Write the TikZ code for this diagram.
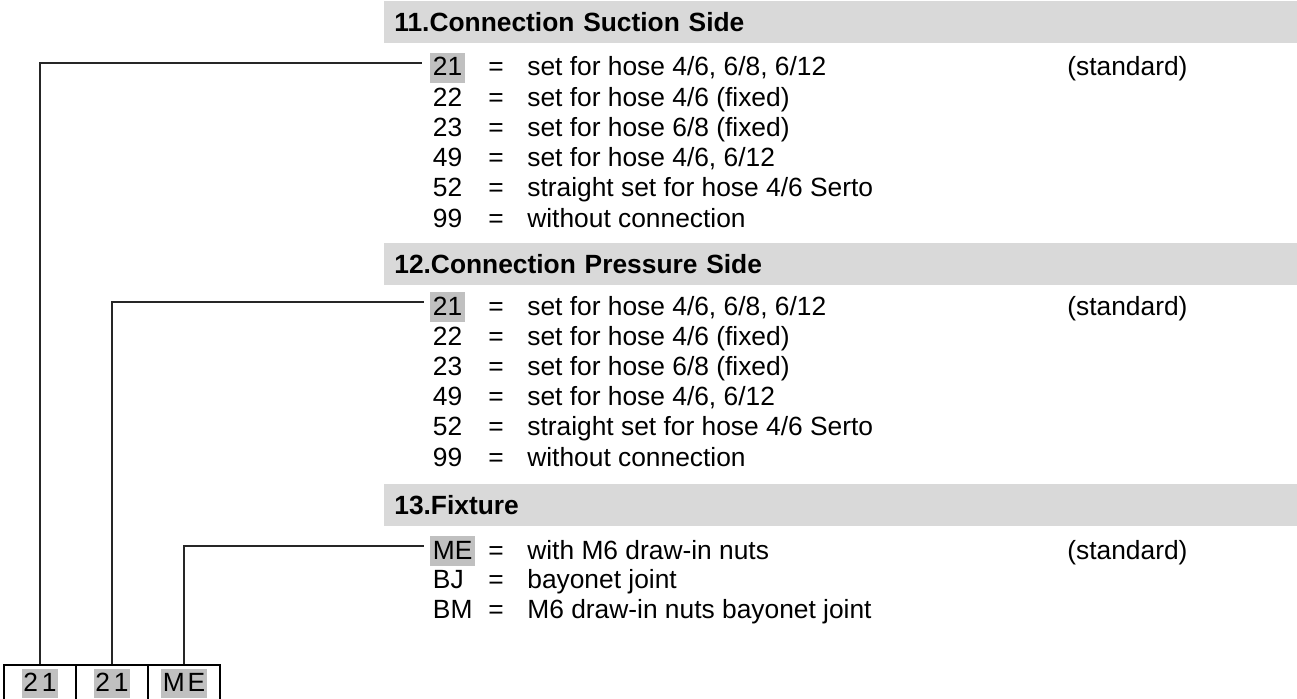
\documentclass[tikz,border=0pt]{standalone}
\usepackage{fontspec}
\setmainfont{Liberation Sans}
\usetikzlibrary{positioning}
\definecolor{headgray}{HTML}{D9D9D9}
\definecolor{markgray}{HTML}{C0C0C0}
\setlength{\fboxsep}{1pt}
\newcommand{\bodyfont}{\fontsize{15}{18}\selectfont}
\newcommand{\boxmark}[1]{\colorbox{markgray}{\rule[-2.5pt]{0pt}{14.5pt}#1}}
\tikzstyle{header}=[%
  anchor=north west,
  fill=headgray,
  minimum height=0.84cm,
  text width=17.86cm,
  inner xsep=0.2cm,
  inner ysep=0pt,
  align=left,
  font=\fontsize{15}{18}\selectfont\bfseries
]
\tikzstyle{code}=[%
  anchor=base west,
  inner xsep=1.5pt,
  inner ysep=1pt,
  text height=12pt,
  text depth=3pt,
  font=\bodyfont
]
\tikzstyle{entry}=[anchor=base west, inner sep=0pt, font=\bodyfont]
\tikzstyle{cell}=[%
  draw,
  line width=1.1pt,
  minimum width=1.44cm,
  minimum height=0.72cm,
  inner sep=0pt,
  font=\bodyfont
]
\tikzstyle{leader}=[line width=1pt, black!85]

\begin{document}
\begin{tikzpicture}[x=0.02cm, y=-0.02cm]
    \useasboundingbox (0,0) rectangle (1297,699);
    \clip (0,0) rectangle (1297,699);

    \node[header] (hsuc) at (384,1) {11.Connection Suction Side};
    \node[header] (hpre) at (384,243) {12.Connection Pressure Side};
    \node[header] (hfix) at (384,484) {13.Fixture};

    % suction side
    \foreach \c/\d/\f [count=\k from 0] in {21/{set for hose 4/6, 6/8, 6/12}/markgray,
        22/{set for hose 4/6 (fixed)}/none, 23/{set for hose 6/8 (fixed)}/none,
        49/{set for hose 4/6, 6/12}/none, 52/{straight set for hose 4/6 Serto}/none,
        99/{without connection}/none} {%
      \node[code, fill=\f] (s\c) at (430,76+30.2*\k) {\c};
      \node[entry] (s\c-eq) at (488,76+30.2*\k) {=};
      \node[entry] (s\c-txt) at (527,76+30.2*\k) {\d};
    }

    % pressure side
    \foreach \c/\d/\f [count=\k from 0] in {21/{set for hose 4/6, 6/8, 6/12}/markgray,
        22/{set for hose 4/6 (fixed)}/none, 23/{set for hose 6/8 (fixed)}/none,
        49/{set for hose 4/6, 6/12}/none, 52/{straight set for hose 4/6 Serto}/none,
        99/{without connection}/none} {%
      \node[code, fill=\f] (p\c) at (430,315+30.2*\k) {\c};
      \node[entry] (p\c-eq) at (488,315+30.2*\k) {=};
      \node[entry] (p\c-txt) at (527,315+30.2*\k) {\d};
    }

    % fixture
    \foreach \c/\d/\f [count=\k from 0] in {ME/{with M6 draw-in nuts}/markgray,
        BJ/{bayonet joint}/none, BM/{M6 draw-in nuts bayonet joint}/none} {%
      \node[code, fill=\f] (f\c) at (430,559+29.5*\k) {\c};
      \node[entry] (f\c-eq) at (488,559+29.5*\k) {=};
      \node[entry] (f\c-txt) at (527,559+29.5*\k) {\d};
    }

    \node[entry] (s21-std) at (1067,76) {(standard)};
    \node[entry] (p21-std) at (1067,315) {(standard)};
    \node[entry] (fME-std) at (1067,559) {(standard)};

    % type code boxes
    \node[cell] (c1) at (40,683) {\boxmark{2\hspace{.15em}1}};
    \node[cell] (c2) at (112,683) {\boxmark{2\hspace{.15em}1}};
    \node[cell] (c3) at (184,683) {\boxmark{M\hspace{.1em}E}};

    \draw[leader] (c1.north) |- ([shift={(-8,-5)}]s21.west);
    \draw[leader] (c2.north) |- ([shift={(-6,-5)}]p21.west);
    \draw[leader] (c3.north) |- ([shift={(-6,-5)}]fME.west);
\end{tikzpicture}
\end{document}
